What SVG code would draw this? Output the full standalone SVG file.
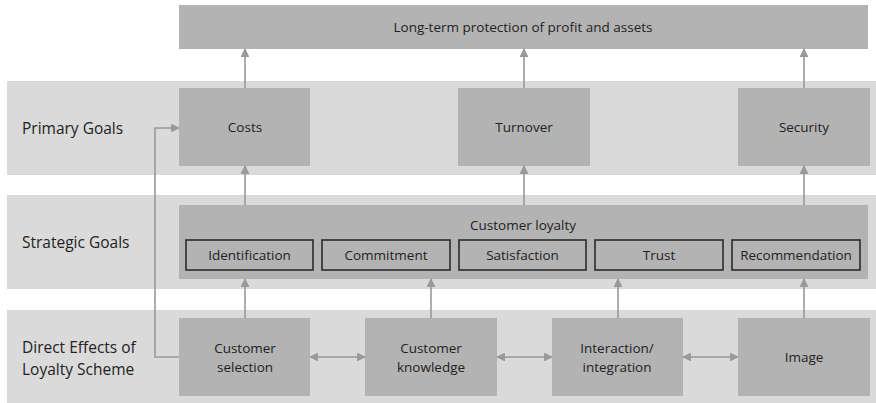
<svg xmlns="http://www.w3.org/2000/svg" width="876" height="403" viewBox="0 0 876 403">
<defs>
<style>
.band{fill:#dadada}
.node{fill:#b3b3b3}
.sub{fill:#b3b3b3;stroke:#2b2b2b;stroke-width:1.6}
.t{font-family:"Open Sans","Liberation Sans",sans-serif;font-size:13.5px;fill:#222;text-anchor:middle}
.lab{font-family:"Open Sans","Liberation Sans",sans-serif;font-size:15.5px;fill:#222}
.c{fill:none;stroke:#999;stroke-width:1.6}
</style>
<marker id="ah" viewBox="0 0 10 10" refX="9" refY="5" markerWidth="5.5" markerHeight="5.5" orient="auto-start-reverse" markerUnits="strokeWidth">
<path d="M0,0 L10,5 L0,10 Z" fill="#999"/>
</marker>
</defs>
<rect width="876" height="403" fill="#fff"/>
<g id="bands">
<rect class="band" x="7" y="81" width="869" height="94"/>
<rect class="band" x="7" y="195" width="869" height="94"/>
<rect class="band" x="7" y="310" width="869" height="93"/>
<text class="lab" x="22" y="134">Primary Goals</text>
<text class="lab" x="22" y="248">Strategic Goals</text>
<text class="lab" x="22" y="353">Direct Effects of</text>
<text class="lab" x="22" y="375">Loyalty Scheme</text>
</g>
<g id="top">
<rect class="node" x="179" y="5" width="689" height="44"/>
<text class="t" x="523" y="32">Long-term protection of profit and assets</text>
</g>
<g id="costs"><rect class="node" x="179" y="88" width="131" height="78"/><text class="t" x="245" y="132">Costs</text></g>
<g id="turnover"><rect class="node" x="458" y="88" width="132" height="78"/><text class="t" x="524" y="132">Turnover</text></g>
<g id="security"><rect class="node" x="738" y="88" width="132" height="78"/><text class="t" x="804" y="132">Security</text></g>
<g id="loyalty">
<rect class="node" x="179" y="205" width="689" height="74"/>
<text class="t" x="523" y="230">Customer loyalty</text>
</g>
<g id="identification"><rect class="sub" x="186" y="240" width="127" height="30"/><text class="t" x="249.5" y="260">Identification</text></g>
<g id="commitment"><rect class="sub" x="322" y="240" width="128" height="30"/><text class="t" x="386" y="260">Commitment</text></g>
<g id="satisfaction"><rect class="sub" x="459" y="240" width="127" height="30"/><text class="t" x="522.5" y="260">Satisfaction</text></g>
<g id="trust"><rect class="sub" x="595" y="240" width="128" height="30"/><text class="t" x="659" y="260">Trust</text></g>
<g id="recommendation"><rect class="sub" x="732" y="240" width="128" height="30"/><text class="t" x="796" y="260">Recommendation</text></g>
<g id="selection"><rect class="node" x="179" y="318" width="131" height="78"/><text class="t" x="245" y="353">Customer</text><text class="t" x="245" y="372">selection</text></g>
<g id="knowledge"><rect class="node" x="365" y="318" width="132" height="78"/><text class="t" x="431" y="353">Customer</text><text class="t" x="431" y="372">knowledge</text></g>
<g id="interaction"><rect class="node" x="552" y="318" width="131" height="78"/><text class="t" x="617" y="353">Interaction/</text><text class="t" x="617" y="372">integration</text></g>
<g id="image"><rect class="node" x="738" y="318" width="132" height="78"/><text class="t" x="804" y="362">Image</text></g>
<g id="connectors">
<path class="c" d="M245,88 V49" marker-end="url(#ah)"/>
<path class="c" d="M524,88 V49" marker-end="url(#ah)"/>
<path class="c" d="M804,88 V49" marker-end="url(#ah)"/>
<path class="c" d="M245,205 V166" marker-end="url(#ah)"/>
<path class="c" d="M524,205 V166" marker-end="url(#ah)"/>
<path class="c" d="M804,205 V166" marker-end="url(#ah)"/>
<path class="c" d="M245,318 V279" marker-end="url(#ah)"/>
<path class="c" d="M431,318 V279" marker-end="url(#ah)"/>
<path class="c" d="M618,318 V279" marker-end="url(#ah)"/>
<path class="c" d="M804,318 V279" marker-end="url(#ah)"/>
<path class="c" d="M310,357 H365" marker-start="url(#ah)" marker-end="url(#ah)"/>
<path class="c" d="M497,357 H552" marker-start="url(#ah)" marker-end="url(#ah)"/>
<path class="c" d="M683,357 H738" marker-start="url(#ah)" marker-end="url(#ah)"/>
<path class="c" d="M179,357 H155 V128 H179" marker-end="url(#ah)"/>
</g>
</svg>
